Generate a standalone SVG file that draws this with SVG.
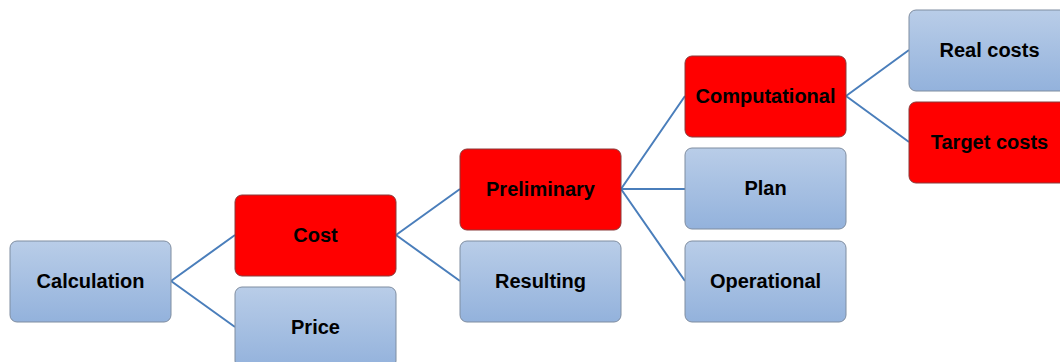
<svg xmlns="http://www.w3.org/2000/svg" width="1060" height="362" viewBox="0 0 1060 362">
<style>
.blue{fill:url(#bg);stroke:#7f8da0;stroke-width:1}
.red{fill:#ff0000;stroke:#8a3a3a;stroke-width:1}
text{font-family:"Liberation Sans",Arial,sans-serif;font-weight:bold;font-size:20px;fill:#000;text-anchor:middle}
.conn{stroke:#4a7ebb;stroke-width:2;fill:none}
</style>
<defs>
<linearGradient id="bg" x1="0" y1="0" x2="0" y2="1">
<stop offset="0" stop-color="#b9cde8"/>
<stop offset="1" stop-color="#93b2dc"/>
</linearGradient>
</defs>
<rect width="1060" height="362" fill="#fff"/>
<g id="connectors">
<path class="conn" d="M171,281 L235,235 M171,281 L235,327"/>
<path class="conn" d="M396,235 L460,189 M396,235 L460,281"/>
<path class="conn" d="M621,189 L685,96 M621,189 L685,189 M621,189 L685,281"/>
<path class="conn" d="M846,96 L909,50 M846,96 L909,142"/>
</g>
<g id="calculation"><rect class="blue" x="10" y="241" width="161" height="81" rx="7"/><text x="90.5" y="288">Calculation</text></g>
<g id="cost"><rect class="red" x="235" y="195" width="161" height="81" rx="7"/><text x="315.5" y="242">Cost</text></g>
<g id="price"><rect class="blue" x="235" y="287" width="161" height="81" rx="7"/><text x="315.5" y="334">Price</text></g>
<g id="preliminary"><rect class="red" x="460" y="149" width="161" height="81" rx="7"/><text x="540.5" y="196">Preliminary</text></g>
<g id="resulting"><rect class="blue" x="460" y="241" width="161" height="81" rx="7"/><text x="540.5" y="288">Resulting</text></g>
<g id="computational"><rect class="red" x="685" y="56" width="161" height="81" rx="7"/><text x="765.5" y="103">Computational</text></g>
<g id="plan"><rect class="blue" x="685" y="148" width="161" height="81" rx="7"/><text x="765.5" y="195">Plan</text></g>
<g id="operational"><rect class="blue" x="685" y="241" width="161" height="81" rx="7"/><text x="765.5" y="288">Operational</text></g>
<g id="real-costs"><rect class="blue" x="909" y="10" width="161" height="81" rx="7"/><text x="989.5" y="57">Real costs</text></g>
<g id="target-costs"><rect class="red" x="909" y="102" width="161" height="81" rx="7"/><text x="989.5" y="149">Target costs</text></g>
</svg>
